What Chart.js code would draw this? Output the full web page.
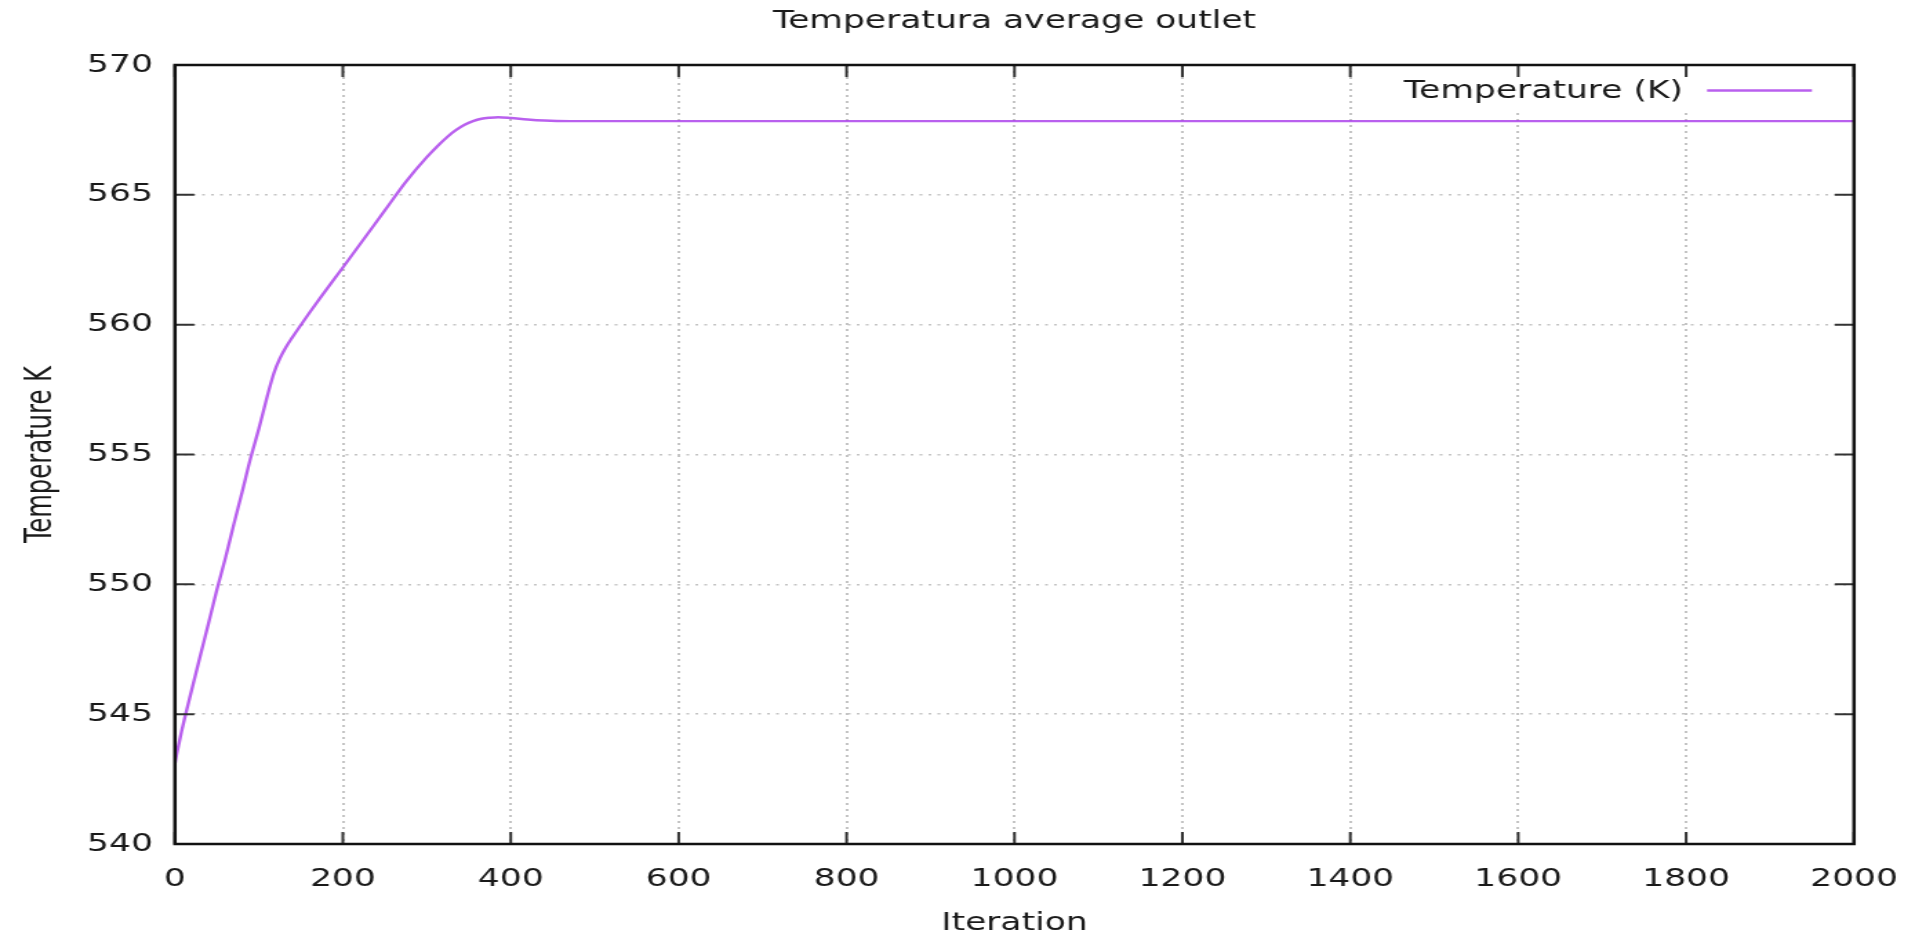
<!DOCTYPE html>
<html><head><meta charset="utf-8">
<script src="https://cdn.jsdelivr.net/npm/chart.js@4.4.1/dist/chart.umd.min.js"></script>
<style>
html,body{margin:0;padding:0;background:#fff;overflow:hidden;width:1915px;height:935px;}
#wrap{position:absolute;left:0;top:0;width:1388px;height:935px;transform:scaleX(1.37968);transform-origin:0 0;}
</style></head><body>
<div id="wrap"><canvas id="c"></canvas></div>
<script>
const chartTitle = 'Temperatura average outlet';
const xLabel = 'Iteration';
const yLabel = 'Temperature K';
const seriesLabel = 'Temperature (K)';

const iterations = [0, 2, 5, 8, 12, 20, 30, 40, 50, 60, 70, 80, 90, 100, 110, 118, 125, 132, 140, 150, 160, 175, 200, 225, 250, 275, 300, 315, 325, 335, 345, 355, 365, 375, 385, 400, 420, 440, 470, 500, 600, 800, 1000, 1200, 1400, 1600, 1800, 2000];
const temperature = [543.1, 543.45, 543.9, 544.35, 544.9, 545.94, 547.23, 548.5, 549.8, 551.0, 552.3, 553.55, 554.85, 556.0, 557.25, 558.15, 558.7, 559.12, 559.52, 559.99, 560.45, 561.12, 562.2, 563.3, 564.4, 565.5, 566.45, 566.95, 567.25, 567.5, 567.7, 567.84, 567.93, 567.97, 567.99, 567.96, 567.9, 567.86, 567.84, 567.84, 567.84, 567.84, 567.84, 567.84, 567.84, 567.84, 567.84, 567.84];

const xTicks = [0, 200, 400, 600, 800, 1000, 1200, 1400, 1600, 1800, 2000];
const yTicks = [540, 545, 550, 555, 560, 565, 570];

const lineColor = 'rgba(168,56,234,0.8)';
const textColor = '#1a1a1a';
const FONT = "'DejaVu Sans', sans-serif";
const CFONT = "'DejaVu Sans Condensed', 'Liberation Sans Narrow', 'Open Sans', sans-serif";

const gridColorFn = (ctx) => {
  const s = ctx.scale;
  if (ctx.tick && (ctx.tick.value === s.min || ctx.tick.value === s.max)) return 'rgba(0,0,0,0)';
  return '#c4c4c4';
};

const framePlugin = {
  id: 'frame',
  afterDatasetsDraw(chart) {
    const {ctx, chartArea: a} = chart;
    ctx.save();
    // legend (key) with opaque background
    ctx.fillStyle = '#fff';
    ctx.fillRect(1000, a.top, a.right - 1000, 44);
    const ds = chart.data.datasets[0];
    ctx.font = '25px ' + FONT;
    ctx.fillStyle = textColor;
    ctx.textAlign = 'right';
    ctx.textBaseline = 'middle';
    ctx.fillText(ds.label, a.right - 124, a.top + 26.5);
    ctx.strokeStyle = ds.borderColor;
    ctx.lineWidth = 2.6;
    ctx.beginPath();
    ctx.moveTo(a.right - 106.5, a.top + 25.5);
    ctx.lineTo(a.right - 30.5, a.top + 25.5);
    ctx.stroke();
    ctx.restore();
  },
  afterDraw(chart) {
    const {ctx, chartArea: a, scales} = chart;
    ctx.save();
    // tick marks (inward, mirrored)
    ctx.strokeStyle = '#333';
    ctx.lineWidth = 2;
    ctx.beginPath();
    scales.x.ticks.forEach(t => {
      const px = scales.x.getPixelForValue(t.value);
      ctx.moveTo(px, a.bottom); ctx.lineTo(px, a.bottom - 12);
      ctx.moveTo(px, a.top); ctx.lineTo(px, a.top + 12);
    });
    scales.y.ticks.forEach(t => {
      const py = scales.y.getPixelForValue(t.value);
      ctx.moveTo(a.left, py); ctx.lineTo(a.left + 14, py);
      ctx.moveTo(a.right, py); ctx.lineTo(a.right - 14, py);
    });
    ctx.stroke();
    // frame
    ctx.strokeStyle = '#111';
    ctx.lineWidth = 2.5;
    ctx.strokeRect(a.left, a.top, a.right - a.left, a.bottom - a.top);
    ctx.restore();
  }
};

new Chart(document.getElementById('c'), {
  type: 'line',
  data: {
    datasets: [{
      label: seriesLabel,
      data: iterations.map((x, i) => ({x: x, y: temperature[i]})),
      borderColor: lineColor,
      borderWidth: 2.4,
      pointRadius: 0,
      fill: false,
      cubicInterpolationMode: 'monotone'
    }]
  },
  options: {
    responsive: true,
    maintainAspectRatio: false,
    animation: false,
    devicePixelRatio: 1,
    layout: {padding: {left: 0, right: 44.2, top: 0, bottom: 0}},
    plugins: {
      legend: {display: false},
      tooltip: {enabled: false},
      title: {
        display: true,
        text: chartTitle,
        fullSize: false,
        color: textColor,
        font: {family: FONT, size: 25, weight: 'normal'},
        padding: {top: 6, bottom: 29}
      }
    },
    scales: {
      x: {
        type: 'linear',
        min: xTicks[0],
        max: xTicks[xTicks.length - 1],
        afterBuildTicks: (s) => { s.ticks = xTicks.map(v => ({value: v})); },
        afterFit: (s) => { s.height = 91; s.paddingLeft = 0; s.paddingRight = 0; },
        ticks: {autoSkip: false, maxRotation: 0, color: textColor, font: {family: FONT, size: 25}, padding: 20,
                callback: (v) => String(v)},
        grid: {color: gridColorFn, lineWidth: 2, drawTicks: false},
        border: {display: false, dash: [2, 4]},
        title: {display: true, text: xLabel, color: textColor, font: {family: FONT, size: 25}, padding: {top: 0, bottom: -3.5}}
      },
      y: {
        type: 'linear',
        min: yTicks[0],
        max: yTicks[yTicks.length - 1],
        afterBuildTicks: (s) => { s.ticks = yTicks.map(v => ({value: v})); },
        afterFit: (s) => { s.width = 126.8; s.paddingTop = 0; s.paddingBottom = 0; },
        ticks: {color: textColor, font: {family: FONT, size: 25}, padding: 16, callback: (v) => String(v)},
        grid: {color: gridColorFn, lineWidth: 1.5, drawTicks: false},
        border: {display: false, dash: [2, 4.5]},
        title: {display: true, text: yLabel, color: textColor, font: {family: CFONT, size: 27}, padding: {top: 13.3, bottom: 0}}
      }
    }
  },
  plugins: [framePlugin]
});
</script>
</body></html>
